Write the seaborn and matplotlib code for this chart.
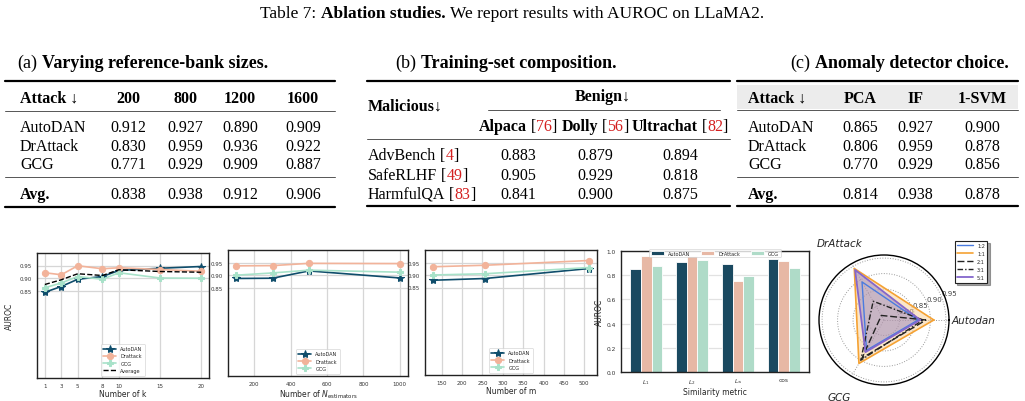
import matplotlib
matplotlib.use("Agg")
import matplotlib.pyplot as plt
import numpy as np
import pandas as pd
import seaborn as sns

W, H = 1025, 402

# ---------------- table data ----------------
bank_sizes = ["200", "800", "1200", "1600"]
attacks = ["AutoDAN", "DrAttack", "GCG"]
bank_vals = [[0.912, 0.927, 0.890, 0.909],
             [0.830, 0.959, 0.936, 0.922],
             [0.771, 0.929, 0.909, 0.887]]
bank_avg = [0.838, 0.938, 0.912, 0.906]

benign_sets = [("Alpaca", "76"), ("Dolly", "56"), ("Ultrachat", "82")]
malicious_sets = [("AdvBench", "4"), ("SafeRLHF", "49"), ("HarmfulQA", "83")]
comp_vals = [[0.883, 0.879, 0.894],
             [0.905, 0.929, 0.818],
             [0.841, 0.900, 0.875]]

detectors = ["PCA", "IF", "1-SVM"]
det_vals = [[0.865, 0.927, 0.900],
            [0.806, 0.959, 0.878],
            [0.770, 0.929, 0.856]]
det_avg = [0.814, 0.938, 0.878]

# ---------------- plot data ----------------
k_values = [1, 3, 5, 8, 10, 15, 20]
k_autodan = [0.843, 0.866, 0.895, 0.906, 0.930, 0.939, 0.946]
k_drattack = [0.921, 0.913, 0.949, 0.937, 0.941, 0.934, 0.927]
k_gcg = [0.861, 0.880, 0.906, 0.895, 0.921, 0.900, 0.899]
k_average = [0.874, 0.893, 0.917, 0.910, 0.933, 0.926, 0.923]

n_est = [100, 300, 500, 1000]
n_autodan = [0.887, 0.888, 0.917, 0.889]
n_drattack = [0.937, 0.938, 0.947, 0.946]
n_gcg = [0.900, 0.909, 0.920, 0.912]

m_values = [128, 256, 512]
m_autodan = [0.879, 0.886, 0.926]
m_drattack = [0.933, 0.939, 0.958]
m_gcg = [0.900, 0.905, 0.930]

metrics = ["$L_1$", "$L_2$", "$L_\\infty$", "cos"]
sim_autodan = [0.855, 0.910, 0.890, 0.930]
sim_drattack = [0.959, 0.955, 0.753, 0.918]
sim_gcg = [0.874, 0.923, 0.797, 0.863]

radar_axes = ["Autodan", "DrAttack", "GCG"]
ratios = ["1:2", "1:1", "2:1", "3:1", "5:1"]
r_12 = [0.860, 0.892, 0.863]
r_11 = [0.911, 0.942, 0.912]
r_21 = [0.886, 0.767, 0.892]
r_31 = [0.876, 0.820, 0.900]
r_51 = [0.867, 0.937, 0.870]

C_AUTO = "#0f4d6b"
C_DR = "#f2b39a"
C_GCG = "#a8e2c9"

sns.set_style("whitegrid")
plt.rcParams["font.family"] = ["DejaVu Sans"]
SERIF = ["Liberation Serif", "DejaVu Serif"]
FS = 11.5
CAP_FS = 13
TITLE_FS = 12.5

fig = plt.figure(figsize=(W / 100, H / 100), dpi=100)
renderer = fig.canvas.get_renderer()


def fxy(x, y):
    return x / W, 1 - y / H


def runs(x, yc, parts, ha="left", size=FS):
    # parts: (text, weight, color); leading/trailing blanks become fixed gaps
    space = size * 100 / 72 * 0.25
    base = yc + 0.33 * size * 100 / 72
    items = []
    for s, w, c in parts:
        pre = space if s.startswith(" ") else 0
        post = space if s.endswith(" ") else 0
        t = fig.text(0, 0, s.strip(), fontsize=size, fontweight=w, color=c,
                     family=SERIF, va="baseline", ha="left")
        items.append((t, pre, t.get_window_extent(renderer).width, post))
    total = sum(p + w + q for _, p, w, q in items)
    pos = x - total / 2 if ha == "center" else x
    for t, p, w, q in items:
        pos += p
        t.set_position(fxy(pos, base))
        pos += w + q


def cell(x, yc, s, ha="center", weight="normal"):
    runs(x, yc, [(s, weight, "black")], ha=ha)


def rule(x0, x1, y, lw, color="black"):
    fig.add_artist(plt.Line2D([x0 / W, x1 / W], [1 - y / H, 1 - y / H],
                              lw=lw, color=color, transform=fig.transFigure))


RED = "#d42020"

# title
runs(512, 12, [("Table 7: ", "normal", "black"), ("Ablation studies.", "bold", "black"),
               (" We report results with AUROC on LLaMA2.", "normal", "black")],
     ha="center", size=TITLE_FS)

# ---- table (a)
runs(17, 62, [("(a) ", "normal", "black"), ("Varying reference-bank sizes.", "bold", "black")],
     size=CAP_FS)
rule(5, 335, 82, 1.6)
rule(5, 335, 111.7, 0.7, "#555555")
rule(5, 335, 177.7, 0.7, "#555555")
rule(5, 335, 208, 1.6)
cols_a = [128, 185, 240, 303]
cell(20, 97.3, "Attack ↓", ha="left", weight="bold")
for x, s in zip(cols_a, bank_sizes):
    cell(x, 97.3, s, weight="bold")
rows_a = [126.7, 145.3, 164]
for y, name, vals in zip(rows_a, attacks, bank_vals):
    cell(20, y, name, ha="left")
    for x, v in zip(cols_a, vals):
        cell(x, y, f"{v:.3f}")
cell(20, 194, "Avg.", ha="left", weight="bold")
for x, v in zip(cols_a, bank_avg):
    cell(x, 194, f"{v:.3f}")

# ---- table (b)
runs(395, 62, [("(b) ", "normal", "black"), ("Training-set composition.", "bold", "black")],
     size=CAP_FS)
rule(367, 730, 81.7, 1.6)
rule(488, 720, 110.7, 0.7, "#555555")
rule(367, 730, 140, 0.7, "#555555")
rule(367, 730, 207, 1.6)
cell(368, 105, "Malicious↓", ha="left", weight="bold")
cell(603, 96, "Benign↓", weight="bold")
cols_b = [518, 595, 680]
for x, (name, ref) in zip(cols_b, benign_sets):
    runs(x, 125.5, [(name + " ", "bold", "black"), ("[", "normal", "black"),
                    (ref, "normal", RED), ("]", "normal", "black")], ha="center")
rows_b = [155, 174.3, 193.3]
for y, (name, ref), vals in zip(rows_b, malicious_sets, comp_vals):
    runs(368, y, [(name + " ", "normal", "black"), ("[", "normal", "black"),
                  (ref, "normal", RED), ("]", "normal", "black")])
    for x, v in zip(cols_b, vals):
        cell(x, y, f"{v:.3f}")

# ---- table (c)
runs(790, 62, [("(c) ", "normal", "black"), ("Anomaly detector choice.", "bold", "black")],
     size=CAP_FS)
fig.add_artist(plt.Rectangle(fxy(737, 110), (1018 - 737) / W, 24 / H,
                             transform=fig.transFigure, color="#ececec", lw=0, zorder=0))
rule(737, 1018, 81.7, 1.6)
rule(737, 1018, 110.7, 0.7, "#555555")
rule(737, 1018, 178, 0.7, "#555555")
rule(737, 1018, 207, 1.6)
cols_c = [860, 915, 982]
cell(748, 97.3, "Attack ↓", ha="left", weight="bold")
for x, s in zip(cols_c, detectors):
    cell(x, 97.3, s, weight="bold")
for y, name, vals in zip(rows_a, attacks, det_vals):
    cell(748, y, name, ha="left")
    for x, v in zip(cols_c, vals):
        cell(x, y, f"{v:.3f}")
cell(748, 194, "Avg.", ha="left", weight="bold")
for x, v in zip(cols_c, det_avg):
    cell(x, 194, f"{v:.3f}")


# ---------------- bottom plots ----------------
def add_ax(x0, y0, x1, y1, **kw):
    return fig.add_axes([x0 / W, 1 - y1 / H, (x1 - x0) / W, (y1 - y0) / H], **kw)


def style_line_ax(ax):
    ax.set_ylim(0.5, 1.0)
    ax.set_yticks([0.85, 0.90, 0.95])
    ax.set_yticklabels(["0.85", "0.90", "0.95"])
    ax.grid(True, color="#d6d6d6", lw=0.9)
    for s in ax.spines.values():
        s.set_color("#222222")
        s.set_linewidth(1.0)
    ax.tick_params(labelsize=4, length=2, width=0.5, pad=1.5, colors="#333333")
    ax.xaxis.label.set_size(5.5)
    ax.yaxis.label.set_size(5.5)


def small_legend(ax):
    leg = ax.legend(loc="lower center", fontsize=3.6, frameon=True, handlelength=2.6,
                    borderpad=0.5, labelspacing=0.45, fancybox=True)
    leg.get_frame().set_edgecolor("#cccccc")
    leg.get_frame().set_linewidth(0.5)


LW = 1.2
ax1 = add_ax(37, 254, 209, 379)
sns.lineplot(x=k_values, y=k_autodan, ax=ax1, color=C_AUTO, marker="*", markersize=6,
             markeredgecolor=C_AUTO, lw=LW, label="AutoDAN")
sns.lineplot(x=k_values, y=k_drattack, ax=ax1, color=C_DR, marker="o", markersize=4.5,
             markeredgecolor=C_DR, lw=LW, label="Drattack")
sns.lineplot(x=k_values, y=k_gcg, ax=ax1, color=C_GCG, marker="P", markersize=4.5,
             markeredgecolor=C_GCG, lw=LW, label="GCG")
sns.lineplot(x=k_values, y=k_average, ax=ax1, color="black", ls="--", lw=1.0, label="Average")
ax1.set_xticks(k_values)
ax1.set_xlabel("Number of k", labelpad=1)
ax1.set_ylabel("AUROC", labelpad=4)
style_line_ax(ax1)
small_legend(ax1)

ax2 = add_ax(228, 251, 408, 377)
sns.lineplot(x=n_est, y=n_autodan, ax=ax2, color=C_AUTO, marker="*", markersize=6,
             markeredgecolor=C_AUTO, lw=LW, label="AutoDAN")
sns.lineplot(x=n_est, y=n_drattack, ax=ax2, color=C_DR, marker="o", markersize=4.5,
             markeredgecolor=C_DR, lw=LW, label="Drattack")
sns.lineplot(x=n_est, y=n_gcg, ax=ax2, color=C_GCG, marker="P", markersize=4.5,
             markeredgecolor=C_GCG, lw=LW, label="GCG")
ax2.set_xticks([200, 400, 600, 800, 1000])
ax2.set_xlabel("Number of $N_{\\mathrm{estimators}}$", labelpad=1)
ax2.set_ylabel("")
style_line_ax(ax2)
small_legend(ax2)

ax3 = add_ax(425, 251, 597, 376)
sns.lineplot(x=m_values, y=m_autodan, ax=ax3, color=C_AUTO, marker="*", markersize=6,
             markeredgecolor=C_AUTO, lw=LW, label="AutoDAN")
sns.lineplot(x=m_values, y=m_drattack, ax=ax3, color=C_DR, marker="o", markersize=4.5,
             markeredgecolor=C_DR, lw=LW, label="Drattack")
sns.lineplot(x=m_values, y=m_gcg, ax=ax3, color=C_GCG, marker="P", markersize=4.5,
             markeredgecolor=C_GCG, lw=LW, label="GCG")
ax3.set_xticks(range(150, 501, 50))
ax3.set_xlabel("Number of m", labelpad=1)
ax3.set_ylabel("")
style_line_ax(ax3)
small_legend(ax3)

# bar chart
ax4 = add_ax(621, 252, 809, 373)
bar_df = pd.DataFrame({
    "metric": metrics * 3,
    "attack": ["AutoDAN"] * 4 + ["DrAttack"] * 4 + ["GCG"] * 4,
    "auroc": sim_autodan + sim_drattack + sim_gcg,
})
sns.barplot(data=bar_df, x="metric", y="auroc", hue="attack", ax=ax4,
            palette=[C_AUTO, C_DR, C_GCG], width=0.7, edgecolor="white", linewidth=0.6)
ax4.set_ylim(0, 1.0)
ax4.set_xlim(-0.55, 3.55)
ax4.set_yticks(np.arange(0, 1.01, 0.2))
ax4.set_xlabel("Similarity metric", labelpad=1)
ax4.set_ylabel("AUROC", labelpad=2)
ax4.grid(True, axis="y", color="#e2e2e2", lw=0.9)
ax4.grid(False, axis="x")
for s in ax4.spines.values():
    s.set_color("#222222")
    s.set_linewidth(1.0)
ax4.tick_params(labelsize=4.2, length=2, width=0.5, pad=1.5, colors="#333333")
ax4.xaxis.label.set_size(5.5)
ax4.yaxis.label.set_size(5.5)
leg4 = ax4.legend(loc="upper center", ncol=3, fontsize=3.6, frameon=True,
                  bbox_to_anchor=(0.5, 1.035), handlelength=2.6, columnspacing=2.2,
                  borderpad=0.3, title=None)
leg4.get_frame().set_edgecolor("#cccccc")
leg4.get_frame().set_linewidth(0.5)

# radar chart
ax5 = add_ax(819, 256, 949, 386, projection="polar")
angles = np.deg2rad([0, 120, 240])
closed = np.append(angles, angles[0])
radar_series = [
    ("1:2", r_12, "#4a7be0", "-", 1.0, None),
    ("1:1", r_11, "#f5a233", "-", 1.2, "#f8c888"),
    ("2:1", r_21, "#222222", (0, (5, 2)), 1.0, None),
    ("3:1", r_31, "#222222", (0, (4, 1.5, 1, 1.5)), 1.0, None),
    ("5:1", r_51, "#8466cc", "-", 1.3, "#8a7ac0"),
]
for name, vals, col, ls, lw, fill in radar_series:
    v = vals + [vals[0]]
    ax5.plot(closed, v, color=col, ls=ls, lw=lw, label=name)
    if fill is not None:
        ax5.fill(closed, v, color=fill, alpha=0.45, lw=0)
ax5.set_ylim(0.75, 0.96)
ax5.set_yticks([0.80, 0.85, 0.90, 0.95])
ax5.set_yticklabels(["0.80", "0.85", "0.90", "0.95"], fontsize=5, color="#444444")
ax5.set_rlabel_position(22.5)
ax5.set_xticks(angles)
ax5.set_xticklabels(radar_axes, fontsize=7.5, fontstyle="italic", color="#222222")
ax5.tick_params(axis="x", pad=7)
ax5.grid(True, color="#999999", ls=":", lw=0.7)
ax5.spines["polar"].set_color("black")
ax5.spines["polar"].set_linewidth(1.0)
ax5.set_facecolor("white")
leg5 = ax5.legend(loc="upper left", bbox_to_anchor=(952 / W, 1 - 239 / H),
                  bbox_transform=fig.transFigure, fontsize=3.6, handlelength=3.2,
                  frameon=True, fancybox=False, shadow=True, borderpad=0.5, labelspacing=0.6)
leg5.get_frame().set_edgecolor("#222222")
leg5.get_frame().set_linewidth(0.8)

fig.savefig("out.png", dpi=100)
